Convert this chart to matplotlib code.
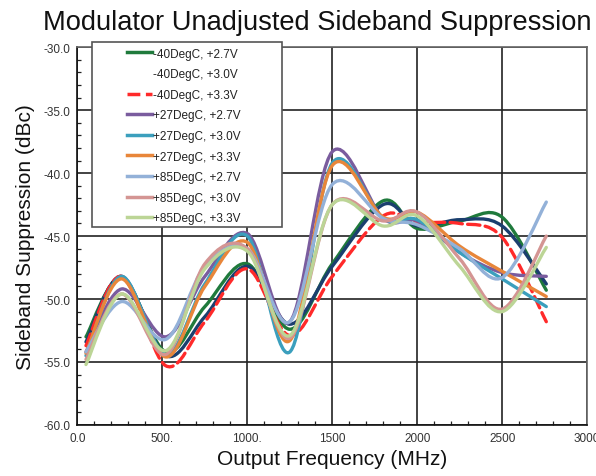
import numpy as np
import matplotlib
matplotlib.use("Agg")
import matplotlib.pyplot as plt
from matplotlib.path import Path
from matplotlib.patches import PathPatch, Rectangle
from matplotlib.lines import Line2D
from matplotlib.ticker import MultipleLocator

plt.rcParams['font.family'] = ['Liberation Sans', 'DejaVu Sans']

# frequency points (MHz)
freq = [50, 260, 520, 750, 1000, 1250, 1500, 1800, 2000, 2250, 2500, 2760]

# sideband suppression (dBc) per temperature / supply
m40_27 = [-53.0, -48.3, -54.2, -50.6, -47.2, -52.4, -47.2, -42.2, -44.4, -43.8, -43.5, -49.3]
m40_30 = [-53.4, -48.2, -54.5, -51.4, -47.4, -52.0, -47.4, -42.5, -44.2, -43.7, -44.2, -48.8]
m40_33 = [-53.7, -48.2, -55.3, -51.8, -47.6, -52.9, -48.2, -43.4, -43.9, -44.0, -45.1, -51.8]
p27_27 = [-54.2, -49.2, -53.0, -48.2, -44.8, -51.8, -38.3, -43.6, -43.8, -46.3, -47.9, -48.2]
p27_30 = [-54.5, -48.2, -54.4, -48.8, -45.0, -54.2, -39.2, -43.6, -43.7, -46.3, -48.4, -50.6]
p27_33 = [-54.3, -48.4, -54.6, -49.0, -45.5, -53.3, -39.4, -43.5, -43.1, -45.8, -47.8, -49.8]
p85_27 = [-54.2, -50.2, -53.2, -47.4, -46.0, -51.8, -40.9, -43.6, -44.1, -46.0, -48.3, -42.3]
p85_30 = [-54.8, -49.6, -54.4, -47.2, -46.0, -53.1, -42.5, -43.8, -43.1, -46.8, -50.8, -45.0]
p85_33 = [-55.2, -49.6, -54.1, -47.6, -46.2, -52.9, -42.5, -44.2, -43.4, -47.4, -51.0, -45.9]

labels = ["-40DegC, +2.7V", "-40DegC, +3.0V", "-40DegC, +3.3V",
          "+27DegC, +2.7V", "+27DegC, +3.0V", "+27DegC, +3.3V",
          "+85DegC, +2.7V", "+85DegC, +3.0V", "+85DegC, +3.3V"]
series = [m40_27, m40_30, m40_33, p27_27, p27_30, p27_33, p85_27, p85_30, p85_33]
colors = ["#1f7a3c", "#1b3f6e", "#ff2a2a", "#7a5c9e", "#3b9fbd", "#e8863a",
          "#93b1d8", "#d49593", "#bcd596"]
styles = ["-", "-", "--", "-", "-", "-", "-", "-", "-"]


def smooth_path(xs, ys):
    # excel style smoothed line: catmull-rom segments as cubic beziers
    p = np.column_stack([xs, ys]).astype(float)
    n = len(p)
    verts = [p[0]]
    codes = [Path.MOVETO]
    for i in range(n - 1):
        p0 = p[i - 1] if i > 0 else p[i]
        p3 = p[i + 2] if i + 2 < n else p[i + 1]
        c1 = p[i] + (p[i + 1] - p0) / 6.0
        c2 = p[i + 1] - (p3 - p[i]) / 6.0
        verts += [c1, c2, p[i + 1]]
        codes += [Path.CURVE4] * 3
    return Path(verts, codes)


fig = plt.figure(figsize=(5.96, 4.77), dpi=100)
ax = fig.add_axes([0.13, 0.107, 0.855, 0.792])

for ys, c, ls in zip(series, colors, styles):
    patch = PathPatch(smooth_path(freq, ys), facecolor='none', edgecolor=c,
                      lw=2.4, linestyle=ls, zorder=3, capstyle='round')
    ax.add_patch(patch)

ax.set_xlim(0, 3000)
ax.set_ylim(-60, -30)
ax.xaxis.set_minor_locator(MultipleLocator(100))
ax.yaxis.set_minor_locator(MultipleLocator(1))
ax.set_xticks([0, 500, 1000, 1500, 2000, 2500, 3000])
ax.set_xticklabels(["0.0", "500.", "1000.", "1500", "2000", "2500", "3000"])
ax.set_yticks([-60, -55, -50, -45, -40, -35, -30])
ax.set_yticklabels(["-60.0", "-55.0", "-50.0", "-45.0", "-40.0", "-35.0", "-30.0"])
ax.tick_params(which='major', length=0, labelsize=8.5, colors='#333333', pad=5)
ax.tick_params(which='minor', direction='in', length=3, width=0.9, color='#222222')
ax.grid(True, which='major', color='#222222', linewidth=1.2, zorder=1)
ax.set_axisbelow(True)
for s in ['left', 'bottom']:
    ax.spines[s].set_color('#111111')
    ax.spines[s].set_linewidth(1.2)
for s in ['top', 'right']:
    ax.spines[s].set_color('#666666')
    ax.spines[s].set_linewidth(1.2)

ax.set_xlabel("Output Frequency (MHz)", fontsize=15, color='#111111', labelpad=4)
ax.set_ylabel("Sideband Suppression (dBc)", fontsize=15, color='#111111', labelpad=6)
fig.text(0.532, 0.952, "Modulator Unadjusted Sideband Suppression", fontsize=19.6,
         ha='center', va='center', color='#111111')

# legend box sits partly above the plot area
box = Rectangle((0.029, 0.524), 0.373, 0.489, transform=ax.transAxes,
                facecolor='white', edgecolor='#555555', lw=1.2, zorder=5, clip_on=False)
ax.add_patch(box)
handles = [Line2D([], [], color=c, lw=2.5, linestyle=ls) for c, ls in zip(colors, styles)]
handles[1] = Line2D([], [], color='none')
leg = ax.legend(handles, labels, loc='upper left', bbox_to_anchor=(0.081, 1.021),
                frameon=False, fontsize=8.5, handlelength=2.1, handletextpad=0.1,
                labelspacing=0.73, borderpad=0.2)
leg.set_zorder(6)
for t in leg.get_texts():
    t.set_color('#222222')

fig.savefig("out.png", dpi=100)
